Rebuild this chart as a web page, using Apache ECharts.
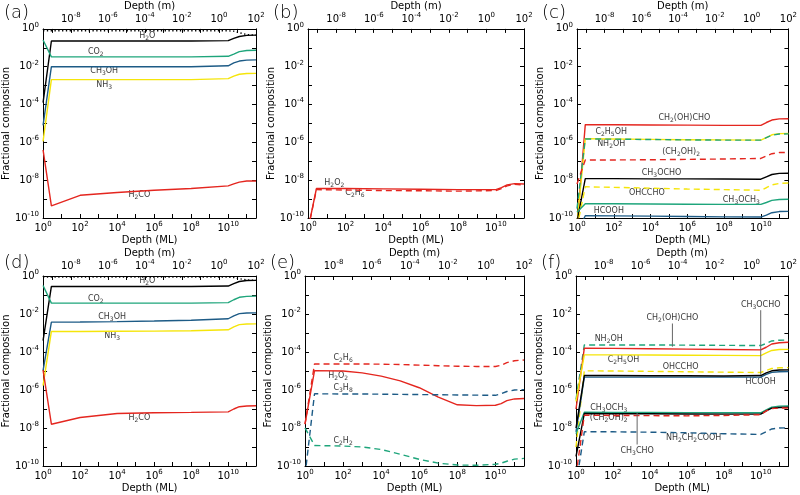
<!DOCTYPE html>
<html><head><meta charset="utf-8">
<script src="https://cdn.jsdelivr.net/npm/echarts@6/dist/echarts.min.js"></script>
<style>html,body{margin:0;padding:0;background:#fff}#c{width:800px;height:495px}</style>
</head><body><div id="c"></div><script>
// ---- axes (log10 exponents) ----
const xTickExps = [0, 2, 4, 6, 8, 10];            // bottom axis: Depth (ML)
const topTickExps = [-8, -6, -4, -2, 0, 2];       // top axis: Depth (m)
const yTickExps = [0, -2, -4, -6, -8, -10];       // Fractional composition
const mOffset = -9.5;                             // log10(m per ML)

// ---- depths (log10 ML) ----
const depthML = [0, 0.45, 2, 4, 6, 8, 10, 10.3, 10.6, 11, 11.5];
const depthMLe = [0, 0.5, 2, 3, 4, 5, 6, 7, 8, 9, 10, 10.3, 10.6, 11, 11.5];

// ---- panel (a) log10 fractions ----
const a_total = [-0.1, -0.1, -0.1, -0.1, -0.1, -0.1, -0.1, -0.12, -0.2, -0.3, -0.33];
const a_H2O   = [-3.9, -0.64, -0.64, -0.64, -0.64, -0.64, -0.62, -0.5, -0.4, -0.34, -0.33];
const a_CO2   = [-0.59, -1.48, -1.48, -1.48, -1.48, -1.48, -1.45, -1.33, -1.2, -1.14, -1.13];
const a_CH3OH = [-5.1, -2.0, -2.0, -2.0, -2.0, -2.0, -1.95, -1.8, -1.7, -1.65, -1.64];
const a_NH3   = [-5.95, -2.68, -2.68, -2.68, -2.68, -2.68, -2.63, -2.5, -2.4, -2.36, -2.35];
const a_H2CO  = [-6.4, -9.36, -8.8, -8.65, -8.53, -8.44, -8.3, -8.2, -8.1, -8.04, -8.04];

// ---- panel (b) ----
const b_H2O2 = [-10.6, -8.44, -8.44, -8.46, -8.48, -8.5, -8.5, -8.4, -8.25, -8.18, -8.2];
const b_C2H6 = [-10.6, -8.5, -8.52, -8.55, -8.56, -8.58, -8.55, -8.45, -8.3, -8.22, -8.25];

// ---- panel (c) ----
const c_CH2OHCHO = [-10.5, -5.06, -5.07, -5.08, -5.09, -5.1, -5.1, -4.95, -4.82, -4.76, -4.75];
const c_C2H5OH   = [-10.3, -5.8, -5.82, -5.84, -5.86, -5.87, -5.88, -5.75, -5.6, -5.54, -5.53];
const c_NH2OH    = [-9.5, -5.82, -5.83, -5.85, -5.87, -5.88, -5.88, -5.75, -5.62, -5.56, -5.55];
const c_CH2OH2   = [-8.2, -6.93, -6.93, -6.92, -6.9, -6.88, -6.85, -6.72, -6.6, -6.54, -6.53];
const c_CH3OCHO  = [-10.2, -7.92, -7.92, -7.93, -7.93, -7.94, -7.95, -7.82, -7.7, -7.64, -7.63];
const c_OHCCHO   = [-10.5, -8.35, -8.38, -8.42, -8.47, -8.5, -8.53, -8.4, -8.25, -8.17, -8.15];
const c_CH3OCH3  = [-9.7, -9.25, -9.25, -9.26, -9.27, -9.28, -9.28, -9.18, -9.07, -9.02, -9.01];
const c_HCOOH    = [-10.8, -9.88, -9.89, -9.9, -9.92, -9.94, -9.95, -9.85, -9.72, -9.66, -9.65];

// ---- panel (d) ----
const d_total = [-0.06, -0.06, -0.06, -0.06, -0.06, -0.06, -0.06, -0.08, -0.14, -0.21, -0.23];
const d_H2O   = [-3.4, -0.55, -0.55, -0.55, -0.55, -0.55, -0.53, -0.4, -0.29, -0.24, -0.23];
const d_CO2   = [-0.5, -1.43, -1.43, -1.43, -1.43, -1.43, -1.4, -1.25, -1.12, -1.07, -1.06];
const d_CH3OH = [-4.98, -2.43, -2.42, -2.4, -2.37, -2.33, -2.25, -2.1, -1.98, -1.95, -1.94];
const d_NH3   = [-5.77, -2.92, -2.92, -2.91, -2.9, -2.88, -2.83, -2.68, -2.56, -2.53, -2.52];
const d_H2CO  = [-4.95, -7.8, -7.45, -7.24, -7.2, -7.18, -7.15, -7.0, -6.88, -6.84, -6.83];

// ---- panel (e) ----
const e_C2H6 = [-7.8, -4.63, -4.63, -4.63, -4.64, -4.66, -4.69, -4.72, -4.75, -4.76, -4.76, -4.7, -4.56, -4.46, -4.42];
const e_H2O2 = [-7.8, -4.98, -5.0, -5.1, -5.27, -5.52, -5.88, -6.38, -6.78, -6.82, -6.8, -6.72, -6.56, -6.47, -6.45];
const e_C3H8 = [-10.5, -6.2, -6.21, -6.21, -6.22, -6.23, -6.24, -6.25, -6.26, -6.27, -6.28, -6.2, -6.08, -6.0, -5.98];
const e_C2H2 = [-7.99, -8.92, -8.95, -9.0, -9.13, -9.38, -9.65, -9.85, -9.95, -9.96, -9.91, -9.85, -9.75, -9.64, -9.6];

// ---- panel (f) ----
const f_NH2OH     = [-6.5, -3.63, -3.63, -3.63, -3.64, -3.65, -3.66, -3.55, -3.42, -3.38, -3.37];
const f_CH2OHCHO  = [-7.0, -3.8, -3.81, -3.83, -3.85, -3.87, -3.89, -3.75, -3.58, -3.51, -3.49];
const f_C2H5OH    = [-6.6, -4.15, -4.15, -4.16, -4.17, -4.18, -4.19, -4.05, -3.92, -3.87, -3.86];
const f_OHCCHO    = [-9.0, -4.99, -5.0, -5.02, -5.04, -5.06, -5.08, -4.97, -4.87, -4.83, -4.82];
const f_CH3OCHO   = [-8.0, -5.24, -5.24, -5.25, -5.25, -5.26, -5.24, -5.1, -4.99, -4.95, -4.94];
const f_HCOOH     = [-8.2, -5.32, -5.32, -5.32, -5.32, -5.32, -5.32, -5.18, -5.07, -5.04, -5.03];
const f_CH3OCH3   = [-8.3, -7.17, -7.18, -7.18, -7.19, -7.2, -7.2, -7.05, -6.9, -6.85, -6.84];
const f_CH3CHO    = [-9.5, -7.24, -7.25, -7.25, -7.26, -7.27, -7.27, -7.1, -6.96, -6.92, -6.91];
const f_CH2OH2    = [-10.5, -7.33, -7.34, -7.35, -7.36, -7.34, -7.3, -7.1, -6.98, -6.95, -6.95];
const f_Glycine   = [-11, -8.2, -8.2, -8.22, -8.25, -8.3, -8.34, -8.2, -8.05, -8.0, -7.99];

// ---- labels [text, log10 depth, log10 fraction] ----
const labA = [['H{s|2}O',5.63,-0.38],['CO{s|2}',2.85,-1.21],['CH{s|3}OH',3.3,-2.24],['NH{s|3}',3.3,-2.98],['H{s|2}CO',5.2,-8.79]];
const labB = [['H{s|2}O{s|2}',1.4,-8.15],['C{s|2}H{s|6}',2.5,-8.67]];
const labC = [['CH{s|2}(OH)CHO',5.84,-4.71],['C{s|2}H{s|5}OH',1.86,-5.44],['NH{s|2}OH',1.86,-6.1],['(CH{s|2}OH){s|2}',5.66,-6.53],
              ['CH{s|3}OCHO',4.6,-7.63],['OHCCHO',3.8,-8.7],['CH{s|3}OCH{s|3}',8.94,-9.05],['HCOOH',1.73,-9.6]];
const labD = [['H{s|2}O',5.63,-0.28],['CO{s|2}',2.85,-1.2],['CH{s|3}OH',3.73,-2.13],['NH{s|3}',3.73,-3.17],['H{s|2}CO',5.2,-7.48]];
const labE = [['C{s|2}H{s|6}',2.0,-4.32],['H{s|2}O{s|2}',1.74,-5.28],['C{s|3}H{s|8}',2.0,-5.89],['C{s|2}H{s|2}',2.0,-8.69]];
const labF = [['NH{s|2}OH',1.77,-3.32],['CH{s|2}(OH)CHO',5.22,-2.23],['CH{s|3}OCHO',10.0,-1.54],['C{s|2}H{s|5}OH',2.57,-4.42],
              ['OHCCHO',5.66,-4.76],['HCOOH',10.0,-5.55],['CH{s|3}OCH{s|3}',1.77,-6.95],['(CH{s|2}OH){s|2}',1.77,-7.47],
              ['NH{s|2}CH{s|2}COOH',6.37,-8.52],['CH{s|3}CHO',3.31,-9.21]];
const calloutsF = [[10.0,-1.8,-5.2],[5.22,-2.5,-3.72],[3.31,-7.2,-8.87]];

// ---- styling ----
const COL = {k:'#000000', g:'#1ea57b', b:'#1d5b86', y:'#f5e50a', r:'#e4261f'};
const FONT = 'DejaVu Sans';
const panels = [
  {letter:'(a)', grid:{left:39, top:26, width:217, height:192}, xs:depthML, labels:labA, lines:[
    [a_total,'k','dot'],[a_H2O,'k','s'],[a_CO2,'g','s'],[a_CH3OH,'b','s'],[a_NH3,'y','s'],[a_H2CO,'r','s']]},
  {letter:'(b)', grid:{left:308, top:26, width:216, height:192}, xs:depthML, labels:labB, lines:[
    [b_H2O2,'r','s'],[b_C2H6,'r','d']]},
  {letter:'(c)', grid:{left:577, top:26, width:216, height:192}, xs:depthML, labels:labC, lines:[
    [c_CH2OHCHO,'r','s'],[c_C2H5OH,'y','s'],[c_NH2OH,'g','d'],[c_CH2OH2,'r','d'],[c_CH3OCHO,'k','s'],
    [c_OHCCHO,'y','d'],[c_CH3OCH3,'g','s'],[c_HCOOH,'b','s']]},
  {letter:'(d)', grid:{left:39, top:276, width:217, height:190}, xs:depthML, labels:labD, lines:[
    [d_total,'k','dot'],[d_H2O,'k','s'],[d_CO2,'g','s'],[d_CH3OH,'b','s'],[d_NH3,'y','s'],[d_H2CO,'r','s']]},
  {letter:'(e)', grid:{left:305, top:276, width:219, height:190}, xs:depthMLe, labels:labE, lines:[
    [e_C2H6,'r','d'],[e_H2O2,'r','s'],[e_C3H8,'b','d'],[e_C2H2,'g','d']]},
  {letter:'(f)', grid:{left:576, top:276, width:214, height:190}, xs:depthML, labels:labF, callouts:calloutsF, lines:[
    [f_NH2OH,'g','d'],[f_CH2OHCHO,'r','s'],[f_C2H5OH,'y','s'],[f_OHCCHO,'y','d'],[f_HCOOH,'b','s'],[f_CH3OCHO,'k','s'],
    [f_CH3OCH3,'g','s'],[f_CH3CHO,'k','s'],[f_CH2OH2,'r','d'],[f_Glycine,'b','d']]}
];

const powRich = {
  b:{fontSize:10, fontFamily:FONT, color:'#000'},
  s:{fontSize:7, fontFamily:FONT, color:'#000', padding:[0,0,8,0]}
};
const powFmt = v => (Number.isInteger(v) && v % 2 === 0) ? '{b|10}{s|' + v + '}' : '';
const axLine = {show:true, onZero:false, lineStyle:{color:'#000', width:1}};
const tick = {show:true, inside:true, length:4, lineStyle:{color:'#000'}};
const nameStyle = {fontFamily:FONT, fontSize:10, color:'#000'};

const grid=[], xAxis=[], yAxis=[], series=[], graphic=[];
panels.forEach((p,i)=>{
  grid.push(Object.assign({containLabel:false}, p.grid));
  xAxis.push({type:'value', gridIndex:i, position:'bottom', min:0, max:11.5, interval:1,
    axisLine:axLine, axisTick:tick, splitLine:{show:false},
    axisLabel:{formatter:powFmt, rich:powRich, margin:3},
    name:'Depth (ML)', nameLocation:'middle', nameGap:17, nameTextStyle:nameStyle});
  xAxis.push({type:'value', gridIndex:i, position:'top', min:mOffset, max:mOffset+11.5,
    axisLine:axLine, axisTick:Object.assign({customValues:[-9,-8,-7,-6,-5,-4,-3,-2,-1,0,1,2]}, tick), splitLine:{show:false},
    axisLabel:{customValues:topTickExps, formatter:v=>'{b|10}{s|'+v+'}', rich:powRich, margin:2},
    name:'Depth (m)', nameLocation:'middle', nameGap:16, nameTextStyle:nameStyle});
  yAxis.push({type:'value', gridIndex:i, position:'left', min:-10, max:0, interval:1,
    axisLine:axLine, axisTick:tick, splitLine:{show:false},
    axisLabel:{formatter:powFmt, rich:powRich, margin:4},
    name:'Fractional composition', nameLocation:'middle', nameGap:24, nameTextStyle:nameStyle});
  yAxis.push({type:'value', gridIndex:i, position:'right', min:-10, max:0, interval:1,
    axisLine:axLine, axisTick:tick, splitLine:{show:false}, axisLabel:{show:false}});
  p.lines.forEach(([vals,c,st])=>{
    series.push({type:'line', xAxisIndex:2*i, yAxisIndex:2*i, showSymbol:false, silent:true,
      data:p.xs.map((x,k)=>[x, vals[k]]),
      lineStyle:{color:COL[c], width:1.4, type: st==='s'?'solid':(st==='d'?[6,4]:[1.3,2.5])}});
  });
  (p.callouts||[]).forEach(([x,y1,y2])=>{
    series.push({type:'line', xAxisIndex:2*i, yAxisIndex:2*i, showSymbol:false, silent:true,
      data:[[x,y1],[x,y2]], lineStyle:{color:'#666', width:1}});
  });
  series.push({type:'scatter', xAxisIndex:2*i, yAxisIndex:2*i, symbolSize:0, silent:true,
    data:p.labels.map(([t,x,y])=>({value:[x,y], name:t})),
    label:{show:true, position:'inside', formatter:d=>d.name, color:'#000', fontFamily:FONT, fontSize:8,
      rich:{s:{fontSize:6, fontFamily:FONT, color:'#000', padding:[5,0,0,0]}}}});
  graphic.push({type:'text', left:p.grid.left-35, top:p.grid.top-22,
    style:{text:p.letter, font:'300 18px '+FONT, fill:'#000'}});
});

const chart = echarts.init(document.getElementById('c'), null, {renderer:'canvas'});
chart.setOption({animation:false, backgroundColor:'#fff', grid, xAxis, yAxis, series, graphic});
</script></body></html>
